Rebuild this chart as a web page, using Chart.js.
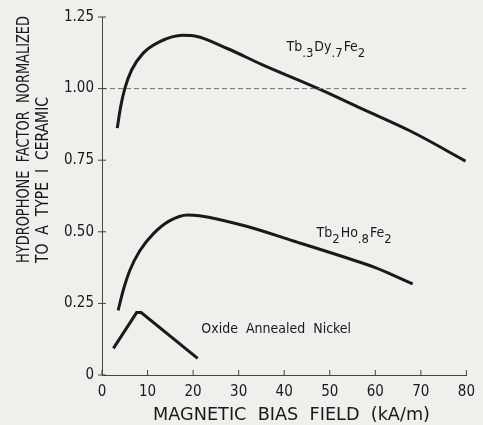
<!DOCTYPE html>
<html>
<head>
<meta charset="utf-8">
<script src="https://cdn.jsdelivr.net/npm/chart.js@4.4.1/dist/chart.umd.min.js"></script>
<style>
  html, body { margin: 0; padding: 0; background: #efefec; }
  #wrap { width: 483px; height: 425px; position: relative; }
</style>
</head>
<body>
<div id="wrap"><canvas id="chartCanvas" width="483" height="425"></canvas></div>
<script>
// Datos
const xTicks = [0, 10, 20, 30, 40, 50, 60, 70, 80];
const yTicks = [0, 0.25, 0.5, 0.75, 1.0, 1.25];
const yTickLabels = ['0', '0.25', '0.50', '0.75', '1.00', '1.25'];

const tbDyX = [3.35, 4.1, 5.0, 6.5, 9.0, 12.6, 17.7, 20.6, 27.5, 35, 47.5, 57, 67.8, 79.8];
const tbDyY = [0.862, 0.937, 1.0, 1.065, 1.123, 1.163, 1.186, 1.183, 1.14, 1.085, 1.0, 0.93, 0.851, 0.747];

const tbHoX = [3.55, 4.65, 6.1, 8.3, 11.2, 14.8, 18.8, 21.4, 31.5, 42, 53.3, 60, 68.2];
const tbHoY = [0.226, 0.295, 0.365, 0.434, 0.492, 0.538, 0.559, 0.556, 0.52, 0.468, 0.411, 0.375, 0.318];

const nickelX = [2.5, 7.6, 8.6, 21.0];
const nickelY = [0.093, 0.218, 0.218, 0.058];

const refX = [0, 80];
const refY = [1.0, 1.0];

const yTitle = ['HYDROPHONE  FACTOR  NORMALIZED', 'TO  A  TYPE  I  CERAMIC'];
const xTitle = 'MAGNETIC  BIAS  FIELD  (kA/m)';

const ink = '#1a1a1a';
const font = "'DejaVu Sans Condensed', 'DejaVu Sans', sans-serif";

function toPoints(xs, ys) {
    return xs.map((x, i) => ({ x: x, y: ys[i] }));
}

// Etiquetas de curvas con subíndices
const labels = [
    { x: 40.5, y: 1.13, parts: [['Tb', 0], ['.3', 1], ['Dy', 0], ['.7', 1], ['Fe', 0], ['2', 1]] },
    { x: 47.1, y: 0.483, parts: [['Tb', 0], ['2', 1], ['Ho', 0], ['.8', 1], ['Fe', 0], ['2', 1]] },
    { x: 21.8, y: 0.146, parts: [['Oxide  Annealed  Nickel', 0]] }
];

// texto comprimido a un ancho dado
function fitText(ctx, text, x, y, len, size) {
    ctx.font = size + "px 'DejaVu Sans', sans-serif";
    const w = ctx.measureText(text).width;
    ctx.save();
    ctx.translate(x, y);
    ctx.scale(len / w, 1);
    ctx.fillText(text, 0, 0);
    ctx.restore();
}

const annotPlugin = {
    id: 'annot',
    afterDatasetsDraw(chart) {
        const ctx = chart.ctx;
        const xs = chart.scales.x, ys = chart.scales.y;
        ctx.save();
        ctx.fillStyle = ink;
        ctx.textBaseline = 'alphabetic';
        labels.forEach(l => {
            let px = xs.getPixelForValue(l.x);
            const py = ys.getPixelForValue(l.y);
            l.parts.forEach(p => {
                ctx.font = (p[1] ? '13px ' : '14px ') + font;
                ctx.fillText(p[0], px, py + (p[1] ? 6 : 0));
                px += ctx.measureText(p[0]).width + (p[1] ? 1 : 0);
            });
        });

        // títulos de ejes
        ctx.textBaseline = 'middle';
        ctx.save();
        ctx.translate(0, 263);
        ctx.rotate(-Math.PI / 2);
        fitText(ctx, yTitle[0], 0, 25, 247, 17);
        fitText(ctx, yTitle[1], 0, 44, 166, 17);
        ctx.restore();
        fitText(ctx, xTitle, 153, 416, 277, 17);

        // marcas de los ejes
        ctx.strokeStyle = '#444';
        ctx.lineWidth = 1;
        xTicks.forEach(v => {
            const px = xs.getPixelForValue(v);
            ctx.beginPath();
            ctx.moveTo(px, ys.bottom);
            ctx.lineTo(px, ys.bottom - 5);
            ctx.stroke();
        });
        yTicks.forEach(v => {
            const py = ys.getPixelForValue(v);
            ctx.beginPath();
            ctx.moveTo(xs.left - 4, py);
            ctx.lineTo(xs.left + 4, py);
            ctx.stroke();
        });
        ctx.restore();
    }
};

const lineStyle = {
    borderColor: ink,
    borderWidth: 3,
    pointRadius: 0,
    fill: false
};

new Chart(document.getElementById('chartCanvas'), {
    type: 'line',
    data: {
        datasets: [
            Object.assign({ label: 'ref', data: toPoints(refX, refY) }, {
                borderColor: '#777', borderWidth: 1, borderDash: [5, 3], pointRadius: 0, fill: false
            }),
            Object.assign({ label: 'Tb.3Dy.7Fe2', data: toPoints(tbDyX, tbDyY), cubicInterpolationMode: 'monotone' }, lineStyle),
            Object.assign({ label: 'Tb2Ho.8Fe2', data: toPoints(tbHoX, tbHoY), cubicInterpolationMode: 'monotone' }, lineStyle),
            Object.assign({ label: 'Oxide Annealed Nickel', data: toPoints(nickelX, nickelY), tension: 0 }, lineStyle)
        ]
    },
    options: {
        responsive: false,
        animation: false,
        layout: { padding: { top: 15, right: 14, left: 0, bottom: 0 } },
        plugins: { legend: { display: false }, tooltip: { enabled: false } },
        scales: {
            x: {
                type: 'linear',
                min: 0,
                max: 80,
                afterBuildTicks: s => { s.ticks = xTicks.map(v => ({ value: v })); },
                afterFit: s => { s.height = 50; },
                grid: { display: false, drawTicks: false },
                border: { display: true, color: '#444', width: 1 },
                ticks: { color: ink, font: { family: font, size: 15 }, padding: 8, maxRotation: 0 }
            },
            y: {
                type: 'linear',
                min: 0,
                max: 1.25,
                afterBuildTicks: s => { s.ticks = yTicks.map(v => ({ value: v })); },
                afterFit: s => { s.width = 102; },
                grid: { display: false, drawTicks: false },
                border: { display: true, color: '#444', width: 1 },
                ticks: {
                    color: ink,
                    font: { family: font, size: 15 },
                    padding: 8,
                    callback: v => yTickLabels[yTicks.indexOf(v)]
                }
            }
        }
    },
    plugins: [annotPlugin]
});
</script>
</body>
</html>
